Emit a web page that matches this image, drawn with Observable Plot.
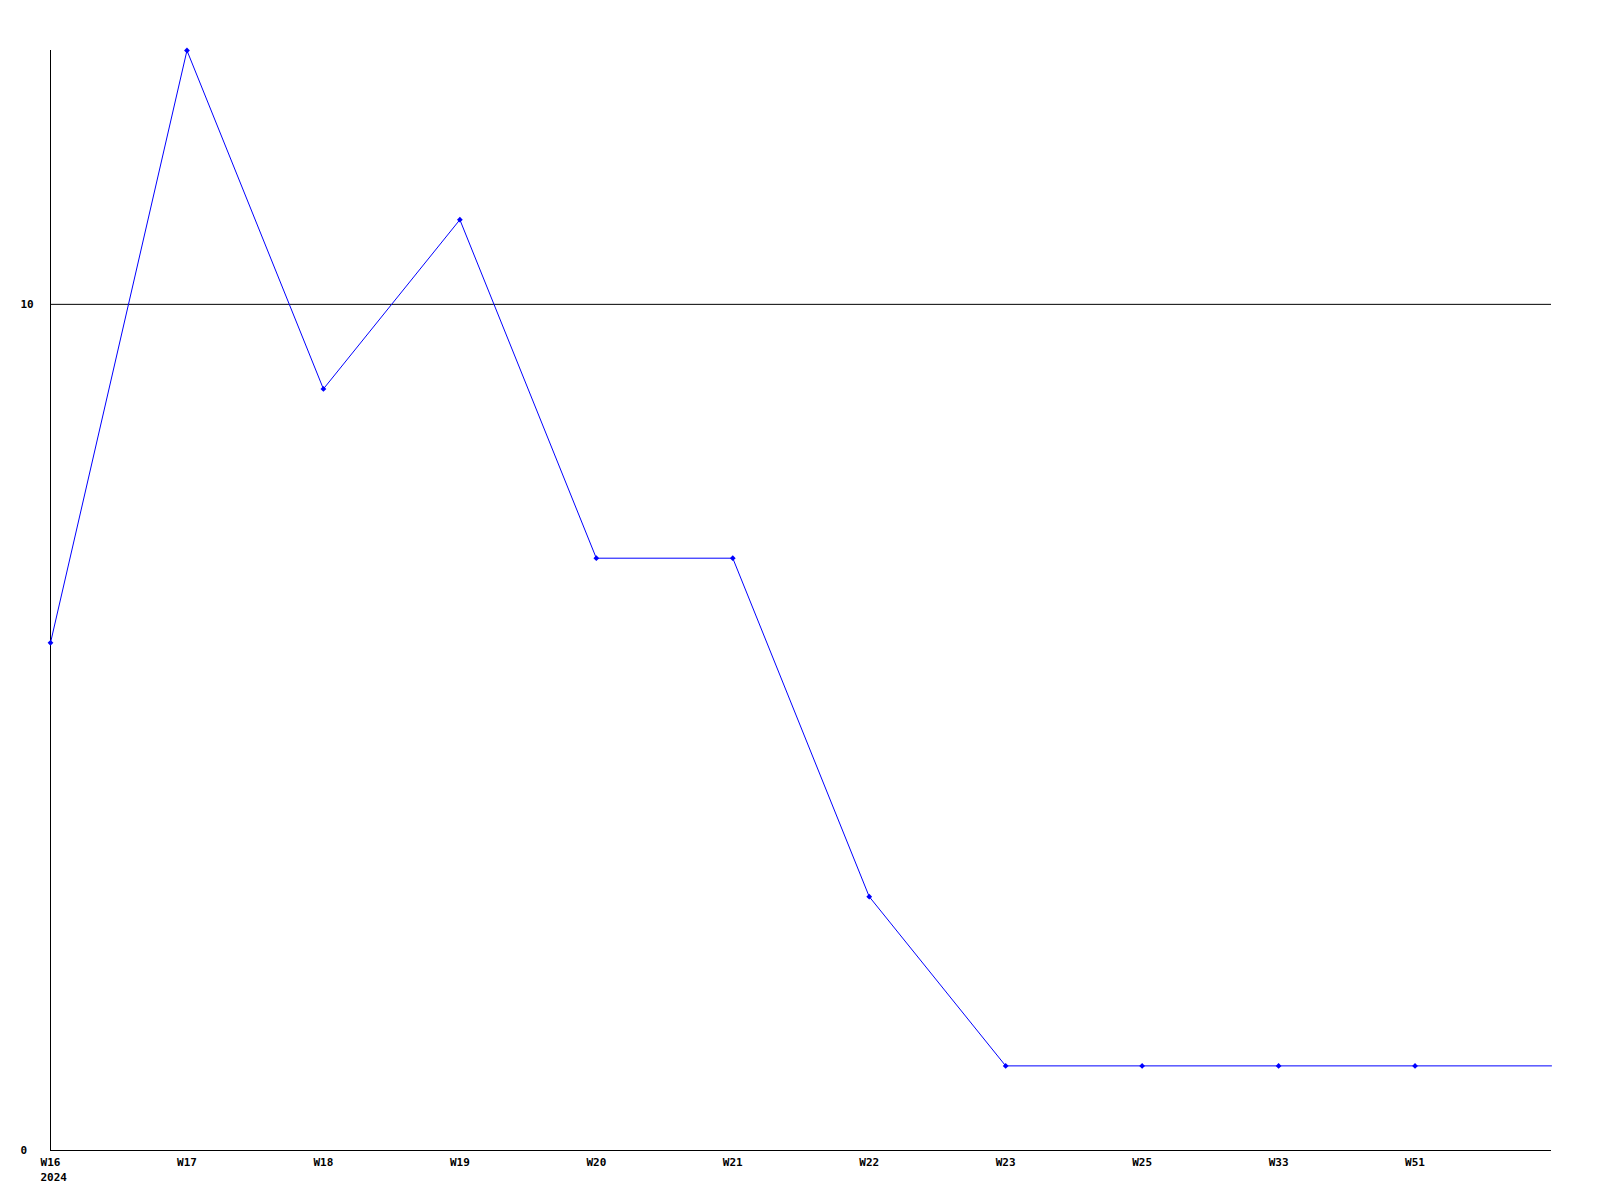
<!DOCTYPE html>
<html>
<head>
<meta charset="utf-8">
<script src="https://cdn.jsdelivr.net/npm/d3@7"></script>
<script src="https://cdn.jsdelivr.net/npm/@observablehq/plot@0.6"></script>
<style>
  html, body { margin: 0; padding: 0; background: #fff; }
  #chart svg { display: block; }
</style>
</head>
<body>
<div id="chart"></div>
<script>
// Weekly categories (last one is an unlabeled trailing point)
const weeks = ["W16", "W17", "W18", "W19", "W20", "W21", "W22", "W23", "W25", "W33", "W51", ""];
const values = [6, 13, 9, 11, 7, 7, 3, 1, 1, 1, 1, 1];
const yearLabels = [{week: "W16", year: "2024"}];
const yTicks = [0, 10];

const data = weeks.map((w, i) => ({week: w, value: values[i]}));
const marked = data.filter(d => d.week !== "");

const chart = Plot.plot({
  width: 1600,
  height: 1200,
  marginLeft: 50,
  marginRight: 49,
  marginTop: 50,
  marginBottom: 50,
  style: {fontFamily: "'DejaVu Sans Mono', monospace", fontWeight: "bold", fontSize: "11px", background: "#fff", color: "#000"},
  x: {type: "point", domain: weeks, padding: 0, align: 0, round: false},
  y: {domain: [0, 13]},
  marks: [
    Plot.axisX({tickSize: 0, tickPadding: 8, label: null}),
    Plot.axisY({ticks: yTicks, tickSize: 0, tickPadding: 30, textAnchor: "start", label: null, tickFormat: d => String(d)}),
    Plot.ruleY([10], {stroke: "#000", strokeWidth: 1}),
    Plot.ruleY([0], {stroke: "#000", strokeWidth: 1}),
    Plot.ruleX([weeks[0]], {stroke: "#000", strokeWidth: 1}),
    Plot.line(data, {x: "week", y: "value", stroke: "#0000ff", strokeWidth: 1}),
    Plot.dot(marked, {x: "week", y: "value", symbol: "diamond2", r: 2.6, fill: "#0000ff", stroke: "none"}),
    Plot.text(yearLabels, {x: "week", text: "year", frameAnchor: "bottom", textAnchor: "start", lineAnchor: "top", dx: -10, dy: 23, fill: "#000"})
  ]
});
document.getElementById("chart").appendChild(chart);
</script>
</body>
</html>
